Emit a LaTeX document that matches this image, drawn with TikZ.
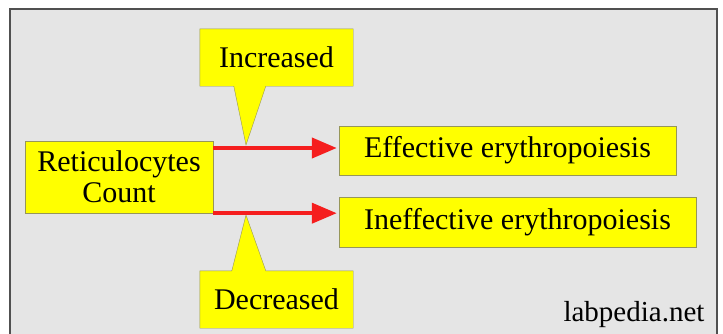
\documentclass[tikz,border=0pt]{standalone}
\usepackage{fontspec}
\setmainfont{LiberationSerif}[Extension=.ttf, UprightFont=*-Regular, BoldFont=*-Bold]
\usetikzlibrary{arrows.meta, positioning, calc, backgrounds}

\definecolor{bggray}{RGB}{229,229,229}
\definecolor{framegray}{RGB}{80,80,80}
\definecolor{boxline}{RGB}{150,150,90}
\definecolor{boxyellow}{RGB}{255,255,0}
\definecolor{arrowred}{RGB}{245,30,30}

\begin{document}
\begin{tikzpicture}[
    x=1pt, y=1pt,
    font=\rmfamily\fontsize{30}{31}\selectfont,
    % Estilos
    yellowbox/.style={rectangle, draw=boxline, fill=boxyellow, thin, align=center, inner sep=0pt},
    calloutbox/.style={rectangle, inner sep=0pt, minimum width=153pt, minimum height=57pt},
    calloutshape/.style={draw=boxline, fill=boxyellow, thin},
    redarrow/.style={-{Triangle[length=25pt, width=20pt]}, line width=4pt, arrowred}
]

% -------------------------
% FONDO
% -------------------------
\useasboundingbox (0,0) rectangle (723,333);
\begin{scope}[on background layer]
    \filldraw[fill=bggray, draw=framegray, line width=1.5pt] (10,-5) rectangle (717,324);
\end{scope}

% -------------------------
% CAJAS
% -------------------------
\node[yellowbox, minimum width=188pt, minimum height=72pt] (ret) at (119,156) {Reticulocytes\\Count};

\node[yellowbox, minimum width=337pt, minimum height=49pt] (eff) at (507.5,182.5) {Effective erythropoiesis};

\node[yellowbox, minimum width=357pt, minimum height=50pt, anchor=north west] (ineff) at ($(eff.south west)+(0,-22)$) {Ineffective erythropoiesis};

% Flechas
\coordinate (rowA) at (0,185);
\draw[redarrow] (ret.east |- rowA) -- ($(eff.west |- rowA)+(-2,0)$);
\draw[redarrow] (ret.south east) -- ($(ineff.west |- ret.south east)+(-2,0)$);

% -------------------------
% GLOBOS
% -------------------------
\node[calloutbox] (inc) at (276.5,275.5) {Increased};
\node[calloutbox] (dec) at (276.5,33.5) {Decreased};

\coordinate (incTip) at (246,188);
\coordinate (decTip) at (246,118);

\begin{scope}[on background layer]
    \draw[calloutshape] (inc.north west) -- (inc.north east) -- (inc.south east)
        -- ($(inc.south west)+(66,0)$) -- (incTip) -- ($(inc.south west)+(34,0)$) -- (inc.south west) -- cycle;
    \draw[calloutshape] (dec.south west) -- (dec.south east) -- (dec.north east)
        -- ($(dec.north west)+(66,0)$) -- (decTip) -- ($(dec.north west)+(32,0)$) -- (dec.north west) -- cycle;
\end{scope}

% Marca
\node[font=\rmfamily\fontsize{29}{30}\selectfont] (mark) at (634,18) {labpedia.net};

\end{tikzpicture}
\end{document}
